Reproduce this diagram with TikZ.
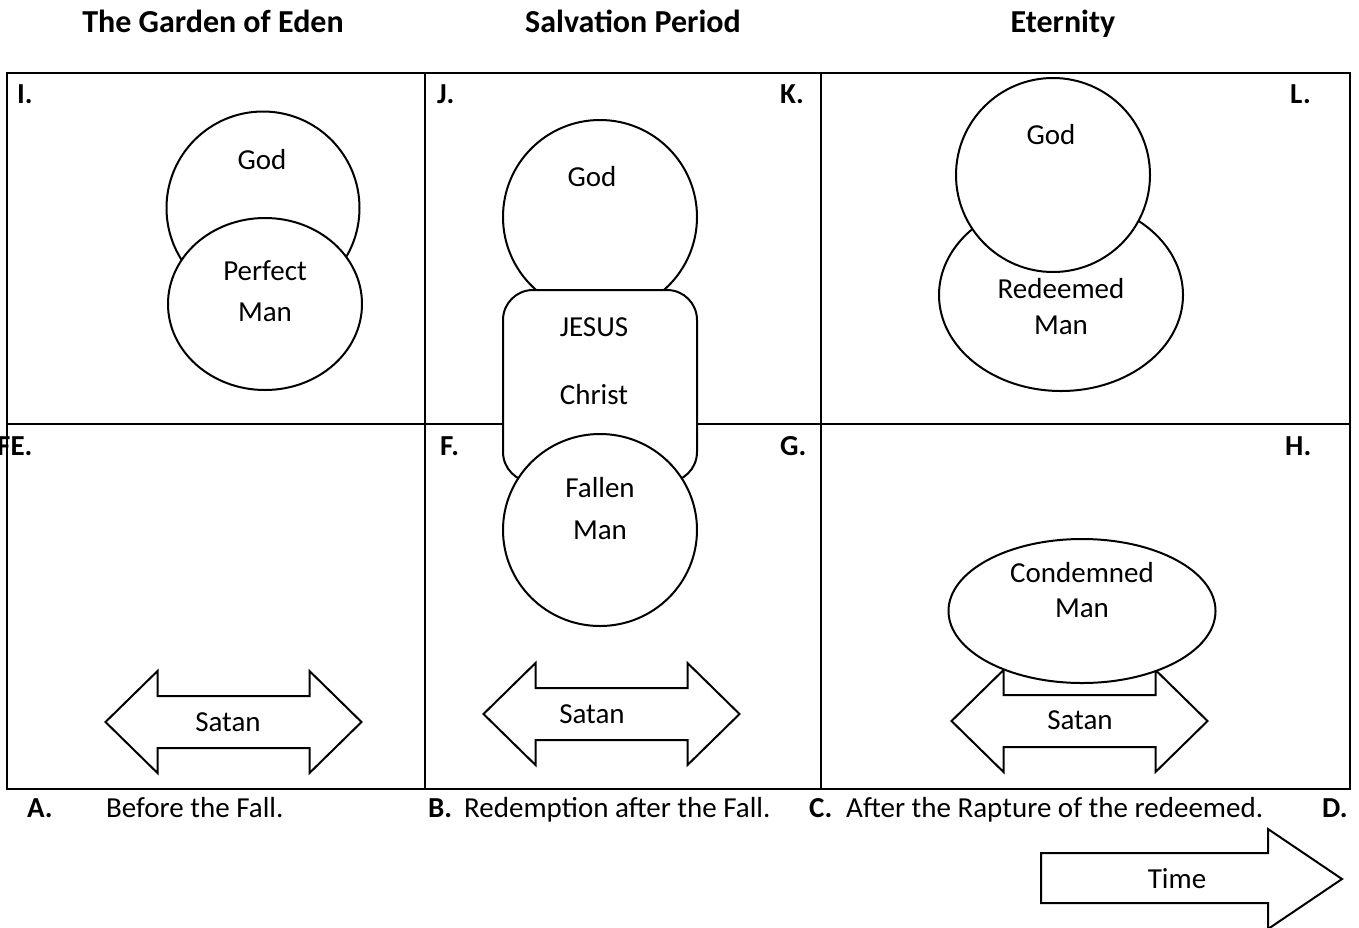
\documentclass[tikz,border=0pt]{standalone}
\usepackage{fontspec}
\setmainfont{Carlito}
\usetikzlibrary{shapes.geometric}
\tikzset{
  gridline/.style={line width=2.6pt},
  shp/.style={draw, line width=2pt, fill=white, inner sep=0pt},
  circ/.style={shp, ellipse},
  txt/.style={inner sep=0pt, text height=24.6pt, text depth=6pt, font=\fontsize{29}{35}\selectfont},
  btxt/.style={inner sep=0pt, text height=24.6pt, text depth=6pt, font=\fontsize{29}{35}\selectfont\bfseries},
  ttxt/.style={inner sep=0pt, text height=27pt, text depth=6.4pt, font=\fontsize{32}{38}\selectfont\bfseries},
  arrowshape/.style={draw, line width=2pt, fill=white, line join=miter},
  dblarrow/.pic={\draw[arrowshape] (-128,0) -- (-76,-51) -- (-76,-26) -- (76,-26) -- (76,-51) -- (128,0) -- (76,51) -- (76,26) -- (-76,26) -- (-76,51) -- cycle;}
}
\begin{document}
\begin{tikzpicture}[x=1pt,y=-1pt]
\useasboundingbox (0,0) rectangle (1359,927);
\clip (0,0) rectangle (1359,927);
\fill[white] (0,0) rectangle (1359,927);

% titles
\node[ttxt] (t1) at (213,22) {The Garden of Eden};
\node[ttxt] (t2) at (633,22) {Salvation Period};
\node[ttxt] (t3) at (1063,22) {Eternity};

% grid
\draw[gridline] (7,73) rectangle (1350,789);
\draw[gridline] (7,424) -- (1350,424);
\draw[gridline] (425,73) -- (425,789);
\draw[gridline] (821,73) -- (821,789);

% panel letters
\node[btxt, anchor=west] (lI) at (17,94) {I.};
\node[btxt, anchor=west] (lJ) at (437,94) {J.};
\node[btxt, anchor=west] (lK) at (780,94) {K.};
\node[btxt, anchor=west] (lL) at (1290,94) {L.};
\node[btxt, anchor=west] (lFE) at (-3,446) {FE.};
\node[btxt, anchor=west] (lF) at (440,446) {F.};
\node[btxt, anchor=west] (lG) at (780,446) {G.};
\node[btxt, anchor=west] (lH) at (1285,446) {H.};

% panel I
\node[circ, minimum width=193pt, minimum height=193pt] (godI) at (263,208) {};
\node[circ, minimum width=194pt, minimum height=172pt] (manI) at (265,304) {};
\node[txt] (godIt) at (262,160) {God};
\node[txt] (manIt1) at (265,271) {Perfect};
\node[txt] (manIt2) at (265,312) {Man};

% panel J / F
\node[circ, minimum width=194pt, minimum height=194pt] (godJ) at (600,217) {};
\node[shp, rectangle, rounded corners=30pt, minimum width=194pt, minimum height=192pt] (jesus) at (600,386) {};
\node[circ, minimum width=194pt, minimum height=192pt] (fallen) at (600,530) {};
\node[txt] (godJt) at (592,177) {God};
\node[txt] (jesust1) at (594,327) {JESUS};
\node[txt] (jesust2) at (594,395) {Christ};
\node[txt] (fallent1) at (600,488) {Fallen};
\node[txt] (fallent2) at (600,530) {Man};

% panel L
\node[circ, minimum width=244pt, minimum height=192pt] (redeemed) at (1061,295) {};
\node[circ, minimum width=194pt, minimum height=194pt] (godL) at (1053,175) {};
\node[txt] (godLt) at (1051,135) {God};
\node[txt] (redt1) at (1061,289) {Redeemed};
\node[txt] (redt2) at (1061,325) {Man};

% Satan arrows
\pic at (233.5,722) {dblarrow};
\node[txt] (satanE) at (228,722) {Satan};
\pic at (611.5,714) {dblarrow};
\node[txt] (satanF) at (592,714) {Satan};
\pic at (1079.5,721) {dblarrow};
\node[txt] (satanH) at (1080,720) {Satan};

% panel H
\node[circ, minimum width=267pt, minimum height=144pt] (condemned) at (1082,611) {};
\node[txt] (condt1) at (1082,573) {Condemned};
\node[txt] (condt2) at (1082,608) {Man};

% captions
\node[btxt, anchor=west] (cA) at (27,808) {A.};
\node[txt, anchor=west] (cAt) at (106,808) {Before the Fall.};
\node[btxt, anchor=west] (cB) at (428,808) {B.};
\node[txt, anchor=west] (cBt) at (464,808) {Redemption after the Fall.};
\node[btxt, anchor=west] (cC) at (809,808) {C.};
\node[txt, anchor=west] (cCt) at (846,808) {After the Rapture of the redeemed.};
\node[btxt, anchor=west] (cD) at (1322,808) {D.};

% time arrow
\draw[arrowshape] (1041,853) -- (1268,853) -- (1268,829) -- (1342,879) -- (1268,929) -- (1268,903) -- (1041,903) -- cycle;
\node[txt] (time) at (1177,879) {Time};
\end{tikzpicture}
\end{document}
